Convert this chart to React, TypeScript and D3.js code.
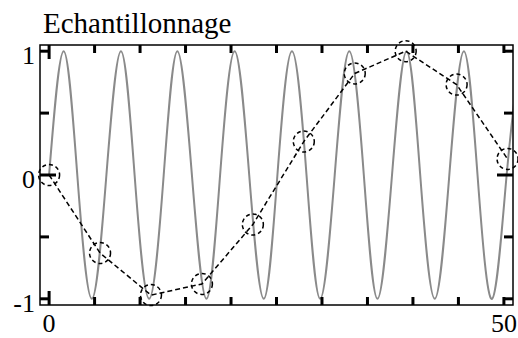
import { scaleLinear, line, curveNatural, curveLinear } from "d3";

const sampleT = [0, 5.6, 11.2, 16.8, 22.4, 28, 33.6, 39.2, 44.8, 50.4];
const sampleY = [0, -0.63, -0.97, -0.88, -0.4, 0.27, 0.82, 1.0, 0.73, 0.13];

// gray signal: zero crossings and extrema
const signalT = [
    0, 1.6, 3.1, 4.7, 6.3, 7.9, 9.4, 11.0, 12.6, 14.1, 15.7, 17.3, 18.8, 20.4,
    22.0, 23.6, 25.1, 26.7, 28.3, 29.8, 31.4, 33.0, 34.6, 36.1, 37.7, 39.3,
    40.8, 42.4, 44.0, 45.6, 47.1, 48.7, 50.3, 51.8,
];
const signalY = [
    0, 1, 0, -1, 0, 1, 0, -1, 0, 1, 0, -1, 0, 1, 0, -1, 0, 1, 0, -1, 0, 1, 0,
    -1, 0, 1, 0, -1, 0, 1, 0, -1, 0, 1,
];

const xTickValues = [0, 5, 10, 15, 20, 25, 30, 35, 40, 45, 50];
const xLabels = [0, 50];
const yTickValues = [-1, -0.5, 0, 0.5, 1];
const yLabels = [-1, 0, 1];
const title = "Echantillonnage";

function Chart() {
    const width = 518;
    const height = 338;
    const left = 40;
    const right = 513;
    const top = 45;
    const bottom = 305;
    const font = "'Liberation Serif', serif";

    const x = scaleLinear([-1, 51], [left, right]);
    const y = scaleLinear([-1.05, 1.05], [bottom, top]);

    const signal = signalT.map((t, i) => [t, signalY[i]] as [number, number]);
    const samples = sampleT.map((t, i) => [t, sampleY[i]] as [number, number]);

    const signalLine = line<[number, number]>()
        .x((d) => x(d[0]))
        .y((d) => y(d[1]))
        .curve(curveNatural);
    const sampleLine = line<[number, number]>()
        .x((d) => x(d[0]))
        .y((d) => y(d[1]))
        .curve(curveLinear);

    const xLen = (v: number) => (v === 0 ? 14 : 8);
    const yLen = (v: number) => (v === 0 ? 16 : 9);

    return (
        <svg
            width={width}
            height={height}
            style={{ position: "absolute", left: 0, top: 0, background: "white" }}
        >
            <defs>
                <clipPath id="plot">
                    <rect x={left} y={top} width={right - left} height={bottom - top} />
                </clipPath>
            </defs>
            <text x={43} y={33} fontFamily={font} fontSize={29} fill="#000">
                {title}
            </text>
            <g clipPath="url(#plot)">
                <path
                    d={signalLine(signal) || ""}
                    fill="none"
                    stroke="#8a8a8a"
                    strokeWidth={2}
                />
            </g>
            <path
                d={sampleLine(samples) || ""}
                fill="none"
                stroke="#000"
                strokeWidth={1.5}
                strokeDasharray="5,3"
            />
            <g fill="none" stroke="#000" strokeWidth={1.5} strokeDasharray="4,3">
                {samples.map((d, i) => (
                    <circle key={i} cx={x(d[0])} cy={y(d[1])} r={10.5} />
                ))}
            </g>
            <rect
                x={left}
                y={top}
                width={right - left}
                height={bottom - top}
                fill="none"
                stroke="#000"
                strokeWidth={1.5}
            />
            <g stroke="#000" strokeWidth={3}>
                {xTickValues.map((v) => (
                    <g key={"x" + v}>
                        <line x1={x(v)} x2={x(v)} y1={bottom} y2={bottom - xLen(v)} />
                        <line x1={x(v)} x2={x(v)} y1={top} y2={top + xLen(v)} />
                    </g>
                ))}
                {yTickValues.map((v) => (
                    <g key={"y" + v}>
                        <line x1={left} x2={left + yLen(v)} y1={y(v)} y2={y(v)} />
                        <line x1={right} x2={right - yLen(v)} y1={y(v)} y2={y(v)} />
                    </g>
                ))}
            </g>
            <g fontFamily={font} fontSize={26} fill="#000">
                {xLabels.map((v) => (
                    <text key={"xl" + v} x={x(v)} y={332} textAnchor="middle">
                        {v}
                    </text>
                ))}
                {yLabels.map((v) => (
                    <text key={"yl" + v} x={35} y={y(v) + 13} textAnchor="end">
                        {v}
                    </text>
                ))}
            </g>
        </svg>
    );
}

export default function App() {
    return (
        <div>
            <Chart />
        </div>
    );
}
